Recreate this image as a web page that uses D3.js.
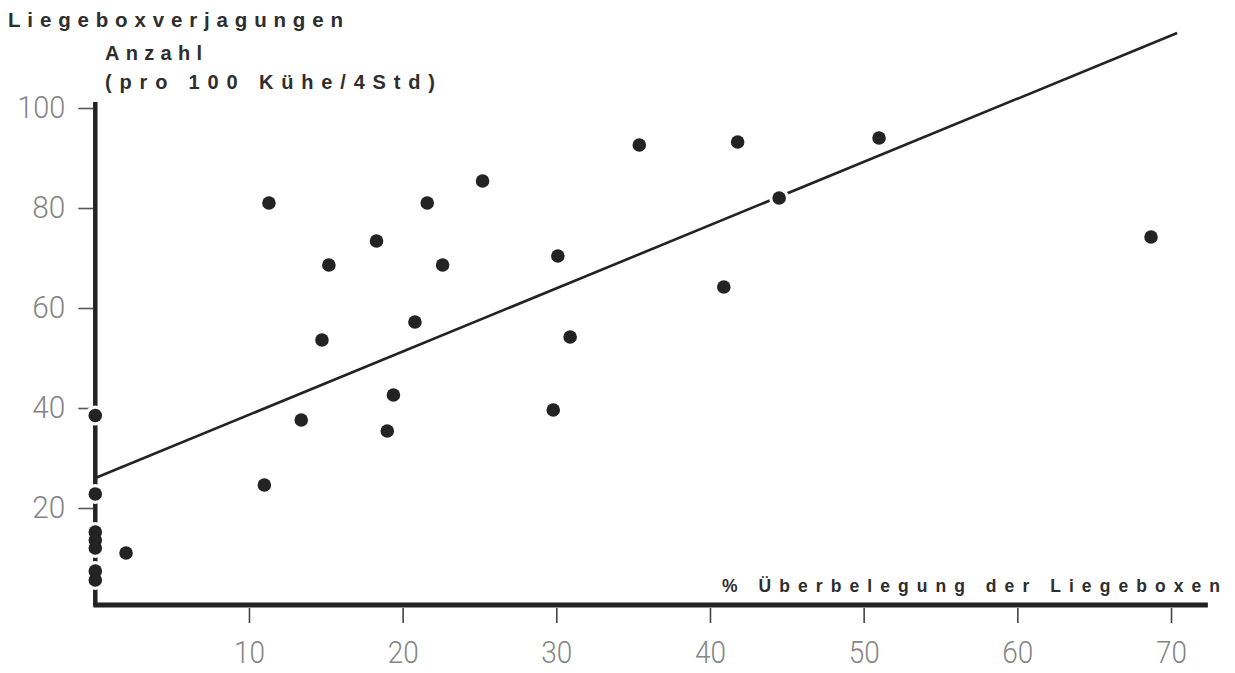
<!DOCTYPE html>
<html><head><meta charset="utf-8">
<script src="https://cdn.jsdelivr.net/npm/d3@7"></script>
<style>
html,body{margin:0;padding:0;background:#fff;}
svg{display:block;}
.ttl{font-family:'Liberation Sans', Arial, sans-serif;font-weight:bold;fill:#2e2e2e;}
</style></head>
<body>
<svg id="chart" width="1235" height="673"></svg>
<script>
// Data
const overcrowding = [0,0,0,0,0,0,0, 2.0, 11.0, 11.3, 13.4, 14.75, 15.2, 18.3, 19.0, 19.4, 20.8, 21.6, 22.6, 25.2, 29.8, 30.1, 30.9, 35.4, 40.9, 41.8, 44.5, 51.0, 68.7];
const displacements = [38.5, 22.8, 15.2, 13.6, 12.0, 7.4, 5.6, 11.0, 24.6, 81.0, 37.6, 53.6, 68.6, 73.4, 35.4, 42.6, 57.2, 81.0, 68.6, 85.4, 39.6, 70.4, 54.2, 92.6, 64.2, 93.2, 82.0, 94.0, 74.2];
const regressionX = [0, 70.4];
const regressionY = [26.0, 115.0];
const xTicks = [10, 20, 30, 40, 50, 60, 70];
const yTicks = [20, 40, 60, 80, 100];
const yTitleLines = ["Liegeboxverjagungen", "Anzahl", "(pro 100 Kühe/4Std)"];
const xTitle = "% Überbelegung der Liegeboxen";
const xAxisEnd = 72.4;
const yAxisEnd = 101.2;

const svg = d3.select("#chart");
const x = d3.scaleLinear().domain([0, 70]).range([95.3, 1171]);
const y = d3.scaleLinear().domain([0, 100]).range([608, 108]);

const ink = "#232323";
const grey = "#858585";

// Axes (ticks + labels)
const xAxis = svg.append("g").attr("transform", `translate(0,${y(0)})`)
  .call(d3.axisBottom(x).tickValues(xTicks).tickSize(15).tickPadding(17).tickFormat(d3.format("d")));
xAxis.select(".domain").remove();
xAxis.selectAll(".tick line").attr("stroke", "#444").attr("stroke-width", 1.6);
xAxis.selectAll(".tick text").attr("fill", grey).attr("font-family", "Roboto, 'DejaVu Sans', sans-serif")
  .attr("font-weight", 300).attr("font-size", 32).attr("textLength", 31).attr("lengthAdjust", "spacingAndGlyphs");

const yAxis = svg.append("g").attr("transform", `translate(${x(0)},0)`)
  .call(d3.axisLeft(y).tickValues(yTicks).tickSize(17).tickPadding(13).tickFormat(d3.format("d")));
yAxis.select(".domain").remove();
yAxis.selectAll(".tick line").attr("stroke", "#555").attr("stroke-width", 1.6);
yAxis.selectAll(".tick text").attr("fill", grey).attr("font-family", "Roboto, 'DejaVu Sans', sans-serif")
  .attr("font-weight", 300).attr("font-size", 31)
  .attr("textLength", d => d >= 100 ? 48 : 33).attr("lengthAdjust", "spacingAndGlyphs");

// Axis lines
svg.append("line").attr("x1", x(0)).attr("x2", x(0)).attr("y1", y(0) - 2).attr("y2", y(yAxisEnd))
  .attr("stroke", ink).attr("stroke-width", 4.5);
svg.append("line").attr("x1", x(0) - 2).attr("x2", x(xAxisEnd)).attr("y1", y(0) - 3).attr("y2", y(0) - 3)
  .attr("stroke", ink).attr("stroke-width", 5);

// Regression line
svg.append("path")
  .datum(regressionX.map((v, i) => [v, regressionY[i]]))
  .attr("d", d3.line().x(d => x(d[0])).y(d => y(d[1])))
  .attr("fill", "none").attr("stroke", ink).attr("stroke-width", 2.6);

const pts = overcrowding.map((v, i) => ({ x: v, y: displacements[i] }));

// White halos (gaps in lines around points)
svg.append("g").selectAll("circle").data(pts).join("circle")
  .attr("cx", d => x(d.x)).attr("cy", d => y(d.y)).attr("r", 10).attr("fill", "#fff");

// Points
svg.append("g").selectAll("circle").data(pts).join("circle")
  .attr("cx", d => x(d.x)).attr("cy", d => y(d.y)).attr("r", 6.8).attr("fill", ink);

// Spaced title text: fit to a target width using letter-spacing
function spaced(sel, size, target) {
  sel.style("font-size", size + "px").style("letter-spacing", "0px");
  sel.each(function() {
    const n = this.textContent.length;
    const w = this.getComputedTextLength();
    const ls = Math.max(0, (target - w) / (n - 1));
    d3.select(this).style("letter-spacing", ls + "px");
  });
}

const yTitlePos = [[8, 27, 335, 20.5], [105, 60, 97, 20], [105, 89, 330, 20]];
svg.append("g").selectAll("text").data(yTitleLines).join("text")
  .attr("class", "ttl")
  .attr("x", (d, i) => yTitlePos[i][0]).attr("y", (d, i) => yTitlePos[i][1])
  .text(d => d)
  .each(function(d, i) { spaced(d3.select(this), yTitlePos[i][3], yTitlePos[i][2]); });

const xt = svg.append("text").attr("class", "ttl").attr("x", 722).attr("y", 592).text(xTitle);
spaced(xt, 17.5, 498);
</script>
</body></html>
